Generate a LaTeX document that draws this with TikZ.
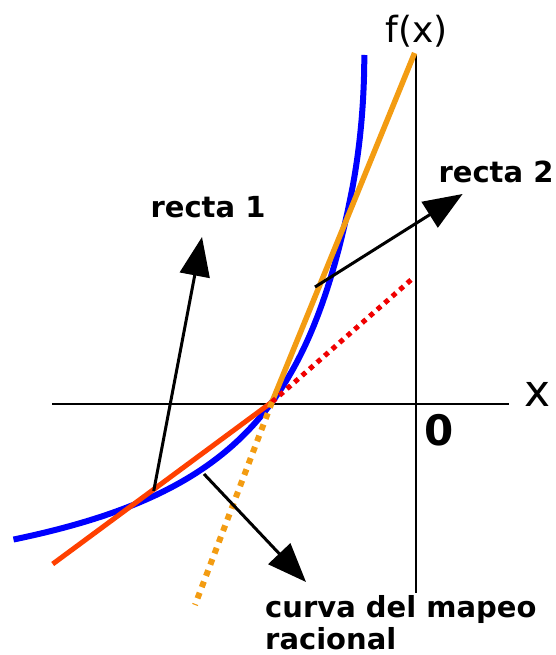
\documentclass[tikz,border=0pt]{standalone}
\usepackage{fontspec}
\setmainfont{DejaVu Sans}
\usetikzlibrary{arrows.meta}

\definecolor{curveblue}{RGB}{0,0,255}
\definecolor{tanred}{RGB}{255,64,0}
\definecolor{tanorange}{RGB}{243,156,18}
\definecolor{dotred}{RGB}{240,0,0}

\begin{document}
\begin{tikzpicture}[
  x=1pt, y=-1pt,
  lbl/.style={font=\fontsize{29}{32}\selectfont\bfseries, inner sep=0pt, align=left},
  ptr/.style={-{Triangle[length=39pt,width=30pt]}, line width=3pt},
  axis/.style={line width=2.5pt},
  curve/.style={line width=6pt, curveblue},
  tanone/.style={line width=5pt, tanred},
  tantwo/.style={line width=5.5pt, tanorange},
  dotone/.style={line width=5pt, dotred, dash pattern=on 5pt off 5pt},
  dottwo/.style={line width=6pt, tanorange, dash pattern=on 6pt off 6pt},
]
\useasboundingbox (0,0) rectangle (555,655);

%% ===== Axes =====
\coordinate (xl) at (52,404);
\coordinate (xr) at (509,404);
\coordinate (yt) at (416,55);
\coordinate (yb) at (416,593);
\draw[axis] (xl) -- (xr);
\draw[axis] (yt) -- (yb);

\node[font=\fontsize{36}{42}\selectfont, inner sep=0pt] (fx) at (417,31) {f(x)};
\node[font=\fontsize{44}{50}\selectfont, inner sep=0pt] (xlab) at (538,394) {x};
\node[font=\fontsize{42}{48}\selectfont\bfseries, inner sep=0pt] (zero) at (439,430) {0};

%% ===== Curve and tangents =====
\coordinate (touch) at (272,402);
\coordinate (ttop) at (414.6,53);
\coordinate (tlow) at (52.7,564);
\coordinate (dotend) at (412,279);
\coordinate (dotlow) at (195,605);

\draw[curve] plot[domain=13.5:352, samples=80] (\x, {627.3 - 371.7/((437-\x)/100)})
  .. controls (360.4,146) and (364.3,100) .. (364.3,55);

\draw[tantwo] (touch) -- (ttop);
\draw[tanone] (tlow) -- (touch);
\draw[dotone] (touch) -- (dotend);
\draw[dottwo] (touch) -- (dotlow);

%% ===== Labels and pointers =====
\node[lbl] (r1) at (208,207) {recta 1};
\node[lbl] (r2) at (496,172) {recta 2};
\node[lbl, anchor=north west] (cv) at (265,595) {curva del mapeo\\racional};

\coordinate (r1tail) at (153.7,491);
\coordinate (r1tip) at (202,237);
\coordinate (r2tail) at (315,287);
\coordinate (r2tip) at (462.6,194);
\coordinate (cvtail) at (204,474);
\coordinate (cvtip) at (306,582);

\draw[ptr] (r1tail) -- (r1tip);
\draw[ptr] (r2tail) -- (r2tip);
\draw[ptr] (cvtail) -- (cvtip);

\end{tikzpicture}
\end{document}
